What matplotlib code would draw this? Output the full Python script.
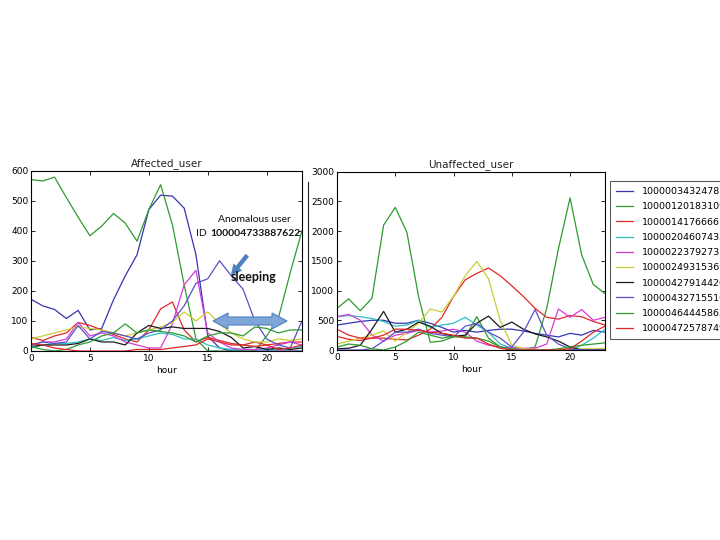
import matplotlib
matplotlib.use("Agg")
import matplotlib.pyplot as plt
from matplotlib.lines import Line2D
from matplotlib.patches import Polygon, FancyArrowPatch

hours = list(range(24))
labels = ["10000034324785", "10000120183109", "10000141766661", "10000204607432",
          "10000223792731", "10000249315369", "10000427914420", "10000432715510",
          "10000464445862", "10000472578749"]
colors = ["#3535b5", "#2e9a2e", "#e02828", "#2cc0c0", "#d83ad8",
          "#cccc33", "#1a1a1a", "#5a50c8", "#2e9a2e", "#e02828"]

# Affected users
aff_1 = [172, 150, 138, 108, 135, 70, 75, 170, 250, 320, 470, 518, 515, 475, 320, 50, 10, 0, 0, 0, 0, 0, 0, 0]
aff_2 = [570, 565, 578, 510, 445, 383, 415, 457, 425, 365, 470, 553, 420, 220, 40, 0, 0, 0, 0, 0, 50, 110, 260, 400]
aff_3 = [45, 35, 50, 60, 95, 85, 70, 55, 40, 30, 70, 140, 163, 70, 30, 45, 35, 25, 20, 30, 20, 25, 30, 30]
aff_4 = [10, 20, 25, 25, 30, 40, 35, 45, 35, 40, 50, 60, 55, 40, 40, 20, 10, 5, 5, 5, 5, 5, 10, 15]
aff_5 = [20, 30, 30, 40, 95, 50, 60, 50, 30, 20, 10, 10, 90, 220, 268, 60, 30, 10, 5, 5, 10, 20, 30, 20]
aff_6 = [40, 50, 60, 70, 80, 75, 70, 60, 50, 60, 70, 80, 95, 130, 100, 130, 90, 60, 40, 30, 30, 40, 35, 40]
aff_7 = [15, 20, 20, 20, 25, 40, 30, 30, 20, 60, 85, 75, 80, 75, 75, 75, 65, 45, 10, 15, 5, 10, 5, 10]
aff_8 = [20, 30, 25, 30, 85, 40, 65, 60, 50, 40, 60, 70, 100, 150, 225, 240, 300, 250, 205, 100, 40, 20, 10, 100]
aff_9 = [15, 5, 0, 5, 20, 30, 50, 60, 90, 60, 70, 65, 60, 50, 30, 50, 60, 60, 50, 80, 75, 60, 70, 70]
aff_10 = [25, 20, 10, 5, 0, 0, 0, 0, 0, 5, 5, 5, 10, 15, 20, 40, 30, 20, 20, 15, 20, 5, 10, 20]

# Unaffected users
un_1 = [420, 450, 480, 500, 500, 450, 450, 500, 450, 380, 300, 330, 300, 330, 350, 350, 320, 280, 250, 220, 280, 250, 330, 300]
un_2 = [700, 860, 660, 870, 2100, 2400, 1980, 900, 130, 150, 220, 220, 560, 200, 50, 0, 0, 50, 700, 1700, 2560, 1600, 1100, 950]
un_3 = [230, 180, 160, 200, 200, 180, 170, 250, 350, 550, 900, 1180, 1290, 1380, 1250, 1080, 900, 700, 550, 520, 580, 560, 480, 420]
un_4 = [560, 580, 560, 530, 480, 400, 420, 500, 380, 420, 450, 550, 420, 300, 100, 30, 10, 0, 0, 0, 0, 80, 200, 350]
un_5 = [560, 600, 500, 250, 150, 250, 280, 330, 300, 320, 350, 300, 150, 80, 50, 40, 30, 30, 100, 690, 550, 680, 500, 550]
un_6 = [100, 150, 200, 250, 320, 150, 300, 450, 690, 640, 900, 1250, 1490, 1200, 500, 80, 20, 10, 0, 0, 20, 20, 20, 30]
un_7 = [20, 30, 80, 350, 650, 300, 350, 470, 400, 280, 230, 250, 450, 570, 380, 470, 350, 270, 220, 150, 50, 0, 0, 0]
un_8 = [0, 0, 0, 20, 150, 300, 300, 350, 280, 250, 220, 400, 450, 300, 200, 50, 300, 680, 250, 100, 20, 0, 0, 0]
un_9 = [50, 100, 80, 20, 0, 50, 150, 300, 250, 200, 230, 220, 200, 150, 50, 20, 0, 0, 0, 20, 50, 80, 100, 120]
un_10 = [350, 250, 200, 200, 250, 350, 350, 330, 300, 280, 250, 200, 200, 100, 30, 0, 0, 0, 0, 0, 20, 150, 300, 400]

affected = [aff_1, aff_2, aff_3, aff_4, aff_5, aff_6, aff_7, aff_8, aff_9, aff_10]
unaffected = [un_1, un_2, un_3, un_4, un_5, un_6, un_7, un_8, un_9, un_10]

W, H = 720, 540
fig = plt.figure(figsize=(7.2, 5.4), dpi=100)
fig.patch.set_facecolor("white")

def fx(px):
    return px / W

def fy(py):
    return 1 - py / H

ax1 = fig.add_axes([fx(31), fy(351), fx(302) - fx(31), fy(170.5) - fy(351)])
ax2 = fig.add_axes([fx(337), fy(350), fx(605) - fx(337), fy(171.7) - fy(350)])

for ax, data, title, ymax, yt in [(ax1, affected, "Affected_user", 600, range(0, 601, 100)),
                                  (ax2, unaffected, "Unaffected_user", 3000, range(0, 3001, 500))]:
    for i, s in enumerate(data):
        ax.plot(hours, s, color=colors[i], lw=0.9, label=labels[i])
    ax.set_xlim(0, 23)
    ax.set_ylim(0, ymax)
    ax.set_xticks([0, 5, 10, 15, 20])
    ax.set_yticks(list(yt))
    ax.tick_params(labelsize=6.5, direction="in", length=3, width=0.6, top=True, right=True, pad=2)
    ax.set_title(title, fontsize=7.5, pad=3, color="#222222")
    ax.set_xlabel("hour", fontsize=6.5, labelpad=2)
    for sp in ax.spines.values():
        sp.set_linewidth(0.8)

leg = ax2.legend(loc="upper left", bbox_to_anchor=(fx(610), fy(181)), bbox_transform=fig.transFigure,
                 fontsize=6.8, frameon=True, fancybox=False, labelspacing=0.66,
                 handlelength=1.8, borderpad=0.65, handletextpad=0.9, borderaxespad=0)
leg.get_frame().set_edgecolor("#333333")
leg.get_frame().set_linewidth(0.8)
for lh in leg.get_lines():
    lh.set_linewidth(0.9)

# Vertical separator line
fig.add_artist(Line2D([fx(308), fx(308)], [fy(182), fy(340)], color="#222222", lw=0.8))

# Annotation text
fig.text(fx(254), fy(220), "Anomalous user", ha="center", va="center", fontsize=7.5,
         family="Lato", color="#111111")
fig.text(fx(196), fy(233), "ID ", ha="left", va="center", fontsize=7.5, family="Lato", color="#111111")
fig.text(fx(210), fy(233), "100004733887622", ha="left", va="center", fontsize=7.5,
         family="Lato", fontweight="bold", color="#111111")

# Single arrow
arr = FancyArrowPatch((fx(249), fy(253)), (fx(229), fy(278)), transform=fig.transFigure,
                      arrowstyle="simple,head_width=0.9,head_length=0.9,tail_width=0.35",
                      mutation_scale=9, color="#4f81bd", lw=0)
fig.add_artist(arr)

# Sleeping text and double arrow
fig.text(fx(254), fy(277), "sleeping", ha="center", va="center", fontsize=9,
         family="Lato", fontweight="bold", color="#111111")
x1, x2, yc = 213, 287, 321
hl, sh, hh = 15, 4, 8
pts = [(x1, yc), (x1 + hl, yc - hh), (x1 + hl, yc - sh), (x2 - hl, yc - sh), (x2 - hl, yc - hh),
       (x2, yc), (x2 - hl, yc + hh), (x2 - hl, yc + sh), (x1 + hl, yc + sh), (x1 + hl, yc + hh)]
poly = Polygon([(fx(p[0]), fy(p[1])) for p in pts], closed=True, transform=fig.transFigure,
               facecolor="#7ea6d8", edgecolor="#4f81bd", lw=0.8)
fig.add_artist(poly)

fig.savefig("out.png", dpi=100, facecolor="white")
